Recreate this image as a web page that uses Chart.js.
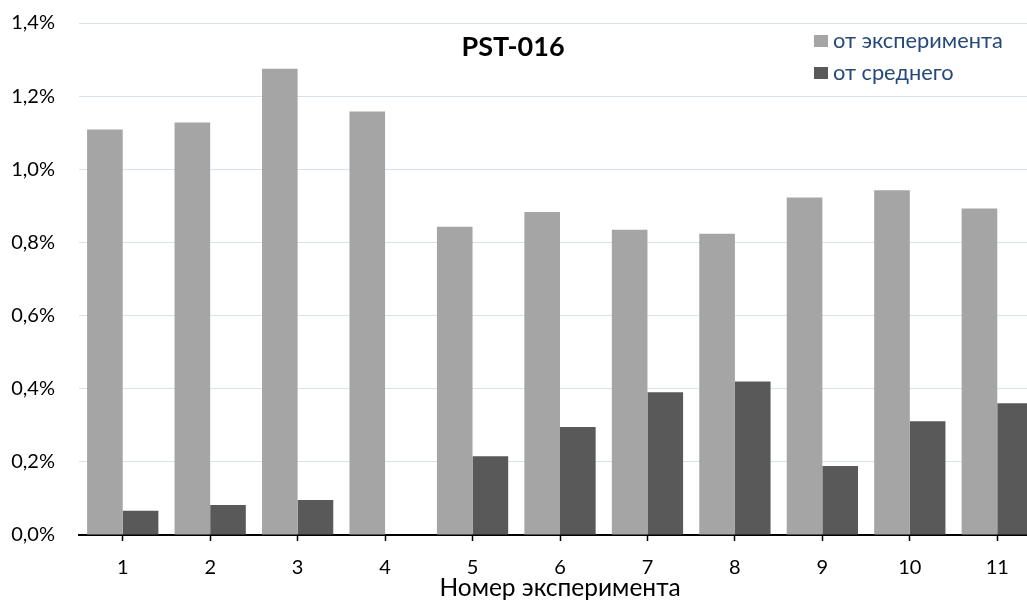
<!DOCTYPE html>
<html lang="ru">
<head>
<meta charset="utf-8">
<title>PST-016</title>
<script src="https://cdn.jsdelivr.net/npm/chart.js@4/dist/chart.umd.min.js"></script>
<style>
  html, body { margin: 0; padding: 0; background: #ffffff; overflow: hidden; }
  #wrap { position: absolute; left: 0; top: 0; width: 1041px; height: 600px; }
</style>
</head>
<body>
<div id="wrap"><canvas id="chart" width="1041" height="600"></canvas></div>
<script>
// Experiment numbers
const categories = ['1', '2', '3', '4', '5', '6', '7', '8', '9', '10', '11'];
// Deviation, %
const seriesNames = ['от эксперимента', 'от среднего'];
const fromExperiment = [1.109, 1.128, 1.275, 1.158, 0.843, 0.883, 0.835, 0.824, 0.923, 0.943, 0.893];
const fromMean = [0.066, 0.082, 0.096, 0, 0.215, 0.295, 0.390, 0.420, 0.189, 0.311, 0.360];
const yTicks = [0, 0.2, 0.4, 0.6, 0.8, 1.0, 1.2, 1.4];
const chartTitle = 'PST-016';
const xTitle = 'Номер эксперимента';

const FONT = "Lato, 'Open Sans', 'DejaVu Sans', sans-serif";
const colors = ['#a5a5a5', '#595959'];

// Title and legend sit inside the plot area, as overlays
const overlay = {
  id: 'overlay',
  afterDraw(chart) {
    const ctx = chart.ctx;
    ctx.save();
    ctx.fillStyle = '#000000';
    ctx.font = 'bold 27px ' + FONT;
    ctx.textAlign = 'center';
    ctx.textBaseline = 'middle';
    ctx.fillText(chartTitle, 513, 47);

    ctx.font = '21.8px ' + FONT;
    ctx.textAlign = 'left';
    const rows = [41, 73];
    chart.data.datasets.forEach((ds, i) => {
      ctx.fillStyle = ds.backgroundColor;
      ctx.fillRect(814, rows[i] - 6, 14, 12);
      ctx.fillStyle = '#27497a';
      ctx.fillText(ds.label, 833, rows[i]);
    });
    ctx.restore();
  }
};

new Chart(document.getElementById('chart'), {
  type: 'bar',
  data: {
    labels: categories,
    datasets: [
      { label: seriesNames[0], data: fromExperiment, backgroundColor: colors[0] },
      { label: seriesNames[1], data: fromMean, backgroundColor: colors[1] }
    ]
  },
  options: {
    responsive: false,
    animation: false,
    devicePixelRatio: 1,
    layout: { padding: { top: 23, right: 0, bottom: 0, left: 0 } },
    datasets: {
      bar: { categoryPercentage: 0.815, barPercentage: 1.0, borderWidth: 0 }
    },
    plugins: {
      legend: { display: false },
      title: { display: false },
      tooltip: { enabled: false }
    },
    scales: {
      x: {
        offset: true,
        grid: {
          display: true,
          offset: false,
          drawOnChartArea: false,
          drawTicks: true,
          tickLength: 6,
          tickWidth: 1.5,
          tickColor: '#000000'
        },
        border: { display: true, color: '#000000', width: 2 },
        ticks: {
          color: '#000000',
          font: { family: FONT, size: 20 },
          padding: 15,
          maxRotation: 0
        },
        title: {
          display: true,
          text: xTitle,
          color: '#000000',
          font: { family: FONT, size: 24.5, lineHeight: 1.0 },
          padding: { top: 0, bottom: 0 }
        },
        afterFit(scale) { scale.height = 65; }
      },
      y: {
        min: 0,
        max: 1.4,
        afterBuildTicks(scale) { scale.ticks = yTicks.map(v => ({ value: v })); },
        grid: {
          color: '#d7e2f1',
          lineWidth: 1,
          drawTicks: false
        },
        border: { display: false },
        ticks: {
          color: '#000000',
          font: { family: FONT, size: 20 },
          padding: 24,
          callback: v => v.toFixed(1).replace('.', ',') + '%'
        },
        afterFit(scale) {
          scale.width = 79;
          scale.paddingTop = 0;
          scale.paddingBottom = 0;
        }
      }
    }
  },
  plugins: [overlay]
});
</script>
</body>
</html>
